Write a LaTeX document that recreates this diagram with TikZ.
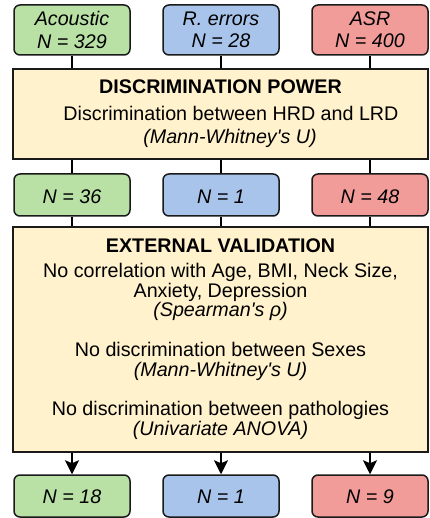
\documentclass[tikz,border=0pt]{standalone}
\usepackage{fontspec}
\setmainfont{Liberation Sans}
\newfontfamily\qfont{Liberation Sans}
\usetikzlibrary{arrows.meta}
\definecolor{cgreen}{HTML}{B9E0A5}
\definecolor{cblue}{HTML}{A9C4EB}
\definecolor{cred}{HTML}{F19C99}
\definecolor{cyellow}{HTML}{FFF2CC}
\definecolor{cstroke}{HTML}{1A1A1A}
\newcommand{\apos}{{\qfont\itshape '}}
\tikzset{
  small/.style={draw=cstroke, line width=1.5pt, rounded corners=6pt, inner sep=0pt},
  big/.style={draw=cstroke, line width=1.5pt, fill=cyellow, inner sep=0pt, minimum width=415pt},
  lbl/.style={font=\fontsize{19.7}{22.3}\selectfont\itshape, align=center, inner sep=0pt},
  ln/.style={font=\fontsize{19.7}{22}\selectfont, anchor=base, inner sep=0pt},
  ttl/.style={font=\fontsize{19.7}{22}\selectfont\bfseries, anchor=base, inner sep=0pt},
  conn/.style={draw=black, line width=1.3pt},
  arr/.style={conn, -{Stealth[length=14pt, width=14pt, inset=3pt]}}
}
\begin{document}
\begin{tikzpicture}[x=1pt, y=-1pt]
\useasboundingbox (0,0) rectangle (429,518);
% top boxes
\node[small, fill=cgreen, minimum width=116pt, minimum height=50pt] (a1) at (72,30) {};
\node[small, fill=cblue,  minimum width=116pt, minimum height=50pt] (b1) at (221,30) {};
\node[small, fill=cred,   minimum width=116pt, minimum height=50pt] (c1) at (370,30) {};
\node[lbl] (a1t) at (72,30) {Acoustic\\N = 329};
\node[lbl] (b1t) at (221,30) {R. errors\\N = 28};
\node[lbl] (c1t) at (370,30) {ASR\\N = 400};
% discrimination power
\node[big, minimum height=90pt] (P) at (220.5,114) {};
\node[ttl] (Pt) at (220.5,94) {DISCRIMINATION POWER};
\node[ln] (P1) at (231,120.7) {Discrimination between HRD and LRD};
\node[ln] (P2) at (230,144) {\itshape (Mann-Whitney\apos s U)};
% middle boxes
\node[small, fill=cgreen, minimum width=116pt, minimum height=42pt] (a2) at (72,195) {};
\node[small, fill=cblue,  minimum width=116pt, minimum height=42pt] (b2) at (221,195) {};
\node[small, fill=cred,   minimum width=116pt, minimum height=42pt] (c2) at (370,195) {};
\node[ln, font=\fontsize{19.7}{22}\selectfont\itshape] (a2t) at (72,203.3) {N = 36};
\node[ln, font=\fontsize{19.7}{22}\selectfont\itshape] (b2t) at (221,203.3) {N = 1};
\node[ln, font=\fontsize{19.7}{22}\selectfont\itshape] (c2t) at (370,203.3) {N = 48};
% external validation
\node[big, minimum height=225pt] (V) at (220.5,339.5) {};
\node[ttl] (Vt) at (220.5,252) {EXTERNAL VALIDATION};
\node[ln] (V1) at (220.5,277.3) {No correlation with Age, BMI, Neck Size,};
\node[ln] (V2) at (220.5,297.1) {Anxiety, Depression};
\node[ln] (V3) at (220.5,316.9) {\itshape (Spearman\apos s ρ)};
\node[ln] (V4) at (220.5,356.5) {No discrimination between Sexes};
\node[ln] (V5) at (220.5,376.3) {\itshape (Mann-Whitney\apos s U)};
\node[ln] (V6) at (220.5,415.9) {No discrimination between pathologies};
\node[ln] (V7) at (220.5,435.7) {\itshape (Univariate ANOVA)};
% bottom boxes
\node[small, fill=cgreen, minimum width=116pt, minimum height=42pt] (a3) at (72,496) {};
\node[small, fill=cblue,  minimum width=116pt, minimum height=42pt] (b3) at (221,496) {};
\node[small, fill=cred,   minimum width=116pt, minimum height=42pt] (c3) at (370,496) {};
\node[ln, font=\fontsize{19.7}{22}\selectfont\itshape] (a3t) at (72,503.3) {N = 18};
\node[ln, font=\fontsize{19.7}{22}\selectfont\itshape] (b3t) at (221,503.3) {N = 1};
\node[ln, font=\fontsize{19.7}{22}\selectfont\itshape] (c3t) at (370,503.3) {N = 9};
% connectors
\foreach \u/\v in {a1/a2, b1/b2, c1/c2}{
  \draw[conn] (\u.south) -- (\u.south |- P.north);
  \draw[conn] (\u.south |- P.south) -- (\v.north);
  \draw[conn] (\v.south) -- (\v.south |- V.north);
}
\draw[arr] (a3.north |- V.south) -- (a3.north);
\draw[arr] (b3.north |- V.south) -- (b3.north);
\draw[arr] (c3.north |- V.south) -- (c3.north);
\end{tikzpicture}
\end{document}
